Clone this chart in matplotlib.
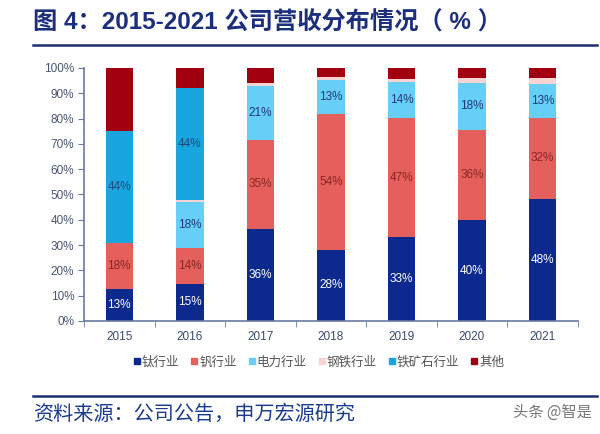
import matplotlib
matplotlib.use("Agg")
import matplotlib.pyplot as plt
import numpy as np
from matplotlib.lines import Line2D

plt.rcParams['font.family'] = ['Liberation Sans', 'Noto Sans CJK SC', 'DejaVu Sans']

years = ["2015", "2016", "2017", "2018", "2019", "2020", "2021"]
series_names = ["钛行业", "钒行业", "电力行业", "钢铁行业", "铁矿石行业", "其他"]
titanium = [12.8, 14.8, 36.3, 28.1, 33.0, 39.9, 48.2]
vanadium = [18.1, 14.1, 35.3, 53.8, 47.4, 35.7, 32.2]
power = [0.0, 18.0, 21.2, 13.2, 14.2, 18.4, 13.4]
steel = [0.0, 0.8, 1.3, 1.3, 1.2, 2.0, 2.2]
iron_ore = [44.3, 44.3, 0.0, 0.0, 0.0, 0.0, 0.0]
other = [24.8, 8.0, 5.9, 3.6, 4.2, 4.0, 4.0]

colors = ["#0c2a8e", "#e5605c", "#66cff7", "#f7d3d3", "#19a5df", "#a00010"]
label_colors = ["white", "#8a2525", "#1f3a78", None, "#1f4a80", None]

fig = plt.figure(figsize=(6, 4.34), dpi=100)
ax = fig.add_axes([0.14, 0.2604, 0.823, 0.583])

x = np.arange(len(years))
bottom = np.zeros(len(years))
for vals, name, col, lcol in zip([titanium, vanadium, power, steel, iron_ore, other],
                                 series_names, colors, label_colors):
    vals = np.array(vals)
    ax.bar(x, vals, 0.39, bottom=bottom, color=col, label=name, zorder=2)
    if lcol is not None:
        for xi, b, v in zip(x, bottom, vals):
            if v >= 5:
                ax.text(xi, b + v / 2, f"{v:.0f}%", ha="center", va="center",
                        fontsize=8.5, color=lcol, zorder=3)
    bottom += vals

ax.set_xlim(-0.5, len(years) - 0.5)
ax.set_ylim(0, 100)
ax.set_yticks(np.arange(0, 101, 10))
ax.set_yticklabels([f"{v}%" for v in range(0, 101, 10)])
ax.set_xticks(x)
ax.set_xticklabels(years)
ax.set_xticks(np.arange(-0.5, len(years), 1), minor=True)
ax.tick_params(axis="x", which="major", length=0, pad=7, labelsize=8.5, labelcolor="#3a4a6a")
ax.tick_params(axis="x", which="minor", length=4, color="#6a7aa0", direction="out")
ax.tick_params(axis="y", length=4, color="#6a7aa0", labelsize=8.5, labelcolor="#4a5670", pad=3)
for s in ["top", "right"]:
    ax.spines[s].set_visible(False)
for s in ["left", "bottom"]:
    ax.spines[s].set_color("#6a7aa0")
    ax.spines[s].set_linewidth(1.2)

handles = [Line2D([0], [0], marker="s", linestyle="", markersize=4.5,
                  markerfacecolor=c, markeredgecolor=c) for c in colors]
fig.legend(handles, series_names, loc="center", bbox_to_anchor=(0.528, 1 - 362 / 434),
           ncol=6, frameon=False, handletextpad=-0.2, columnspacing=0.6,
           handlelength=1.2, labelcolor="#555555",
           prop={"family": ["Noto Sans CJK SC"], "size": 9})

# title, rules and source
fig.text(33 / 600, 1 - 23 / 434, "图 4：2015-2021 公司营收分布情况（ % ）", fontsize=17.5,
         fontweight="bold", color="#1b2f7c", va="center", ha="left",
         family=["Liberation Sans", "Noto Sans CJK SC"])
fig.add_artist(Line2D([33 / 600, 597 / 600], [1 - 45 / 434, 1 - 45 / 434],
                      color="#1b2f6e", linewidth=1.8))
fig.add_artist(Line2D([33 / 600, 597 / 600], [1 - 396 / 434, 1 - 396 / 434],
                      color="#1b2f6e", linewidth=1.8))
fig.text(33 / 600, 1 - 414 / 434, "资料来源：公司公告，申万宏源研究", fontsize=14.5,
         color="#1b3c8c", va="center", ha="left", family=["Noto Sans CJK SC"])
fig.text(592 / 600, 1 - 412 / 434, "头条 @智是", fontsize=11, color="#555555",
         va="center", ha="right", family=["Noto Sans CJK SC"], alpha=0.8)

fig.savefig("out.png", dpi=100)
